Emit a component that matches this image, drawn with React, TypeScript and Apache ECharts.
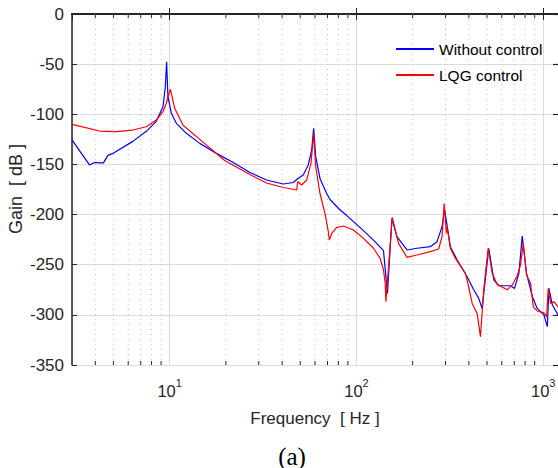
import React, { useEffect, useRef } from "react";
import * as echarts from "echarts";

const FONT = "Liberation Sans, Arial, Helvetica, sans-serif";

const blueFreq = [
  3.0, 3.72, 3.96, 4.21, 4.42, 4.67, 4.96, 6.35, 7.5, 8.48, 9.21, 9.48, 9.63, 9.79, 10.21, 10.86,
  12.29, 14.49, 17.81, 21.9, 26.9, 33.0, 40.6, 45.9, 48.2, 51.9, 55.2, 57.6, 59.0, 60.5, 63.8,
  69.3, 72.2, 81.8, 88.8, 109, 123.4, 139.6, 146.6, 154.9, 164.7, 186.5, 210.9, 248.6, 270.2,
  287.3, 296.6, 318.4, 345.7, 391.4, 424.6, 451.7, 471, 511, 543.7, 578, 668, 702, 741, 772,
  814, 874, 929, 1009, 1052, 1073, 1119, 1200,
];
const blueGain = [
  -125.5, -150.5, -148, -148.5, -148.5, -141, -139, -127, -117, -107, -92.5, -72.5, -47.6, -82.5,
  -99, -109, -119, -129, -139, -148, -158, -165.5, -169.5, -168, -164.5, -160.5, -150.5, -135.6,
  -114, -142, -164, -179, -185, -195.4, -201, -216, -225.5, -236, -278.6, -203.8, -222, -235.3,
  -233.6, -232, -227, -212, -195, -232, -245, -262, -275, -283.6, -293.6, -233.6, -265, -271,
  -271, -273.6, -258.6, -221.3, -258.6, -281.7, -293.6, -300, -311.8, -273.6, -290, -300,
];

const redFreq = [
  3.0, 4.21, 5.18, 6.35, 7.5, 8.48, 9.21, 9.6, 9.79, 10.09, 10.64, 11.79, 14.49, 19.7, 26.9, 33.0,
  40.6, 47.9, 48.5, 50.9, 54.2, 57.1, 59.0, 60.5, 63.8, 67.9, 70.7, 71.6, 73.8, 78.5, 85.2, 96.4,
  109, 123.4, 134, 139.6, 142.6, 143.8, 155.5, 168, 186.5, 210.9, 248.6, 275.5, 287.3, 295, 303,
  305.5, 318.4, 338.7, 383.3, 399, 416.4, 442.8, 461.3, 480.3, 507.3, 533.2, 567, 641.5, 682.5,
  726, 756, 782, 814, 855.6, 885, 929, 1009, 1043, 1064, 1096, 1142, 1200,
];
const redGain = [
  -110, -116.7, -117.3, -115.7, -112.4, -105.7, -97.4, -89, -82.5, -75, -94, -111, -125, -146,
  -160, -168.5, -173, -175.5, -167, -170.5, -165.5, -149, -119, -152, -179, -199, -217, -225.5,
  -218.8, -212.7, -211.4, -215.4, -223.7, -233.6, -243.7, -255, -268.6, -286.8, -202.8, -228.7,
  -242.7, -240.3, -237, -234.3, -222, -189, -218.6, -212, -233.6, -243.7, -258.6, -272, -288.6,
  -298.6, -321.7, -275, -233.6, -258.6, -269.6, -275, -270.4, -261, -250.3, -228.7, -260.3,
  -268.6, -292, -296, -298, -302, -273.6, -288.6, -287, -292,
];

const minorFreqs = [4, 5, 6, 7, 8, 9, 20, 30, 40, 50, 60, 70, 80, 90, 200, 300, 400, 500, 600, 700, 800, 900];
const seriesNames = ["Without control", "LQG control"];
const xMin = 3;
const xMax = 1200;
const yMin = -350;
const yMax = 0;
const yStep = 50;

const AXIS_COLOR = "#262626";

export default function App() {
  const ref = useRef<HTMLDivElement>(null);
  useEffect(() => {
    if (!ref.current) return;
    const chart = echarts.init(ref.current, null, { renderer: "svg" });
    const isPow10 = (v: number) => {
      const l = Math.log10(v);
      return Math.abs(l - Math.round(l)) < 1e-6;
    };
    const option: any = {
      animation: false,
      backgroundColor: "#ffffff",
      grid: { left: 72, top: 14, right: 0, bottom: 103, outerBoundsMode: "none", containLabel: false },
      legend: {
        orient: "vertical",
        left: 390,
        top: 36,
        itemWidth: 38,
        itemHeight: 14,
        itemGap: 10,
        itemStyle: { opacity: 0 },
        textStyle: { fontSize: 15.5, fontFamily: FONT, color: "#000" },
        data: seriesNames,
      },
      xAxis: [
        {
          type: "log",
          logBase: 10,
          min: xMin,
          max: xMax,
          position: "bottom",
          axisLine: { show: true, lineStyle: { color: AXIS_COLOR, width: 2 } },
          axisTick: { show: true, inside: true, length: 6, lineStyle: { color: AXIS_COLOR, width: 1 } },
          axisLabel: {
            show: true,
            showMinLabel: false,
            showMaxLabel: false,
            margin: 9,
            formatter: (v: number) => (isPow10(v) ? `{b|10}{s|${Math.round(Math.log10(v))}}` : ""),
            rich: {
              b: { fontSize: 16.5, fontFamily: FONT, color: AXIS_COLOR, padding: [8, 0, 0, 0] },
              s: { fontSize: 11, fontFamily: FONT, color: AXIS_COLOR, padding: [0, 0, 7, 0] },
            },
          },
          splitLine: { show: true, lineStyle: { color: "#dcdcdc", width: 1 } },
        },
        {
          type: "log",
          logBase: 10,
          min: xMin,
          max: xMax,
          position: "top",
          axisLine: { show: true, lineStyle: { color: AXIS_COLOR, width: 2 } },
          axisTick: { show: true, inside: true, length: 6, lineStyle: { color: AXIS_COLOR, width: 1 } },
          axisLabel: { show: false },
          splitLine: { show: false },
        },
      ],
      yAxis: [
        {
          type: "value",
          min: yMin,
          max: yMax,
          interval: yStep,
          position: "left",
          axisLine: { show: true, lineStyle: { color: AXIS_COLOR, width: 1.5 } },
          axisTick: { show: true, inside: true, length: 5, lineStyle: { color: AXIS_COLOR, width: 1 } },
          axisLabel: { show: true, margin: 8, fontSize: 17, fontFamily: FONT, color: AXIS_COLOR },
          splitLine: { show: true, lineStyle: { color: "#dcdcdc", width: 1 } },
        },
        {
          type: "value",
          min: yMin,
          max: yMax,
          interval: yStep,
          position: "right",
          axisLine: { show: false },
          axisTick: { show: true, inside: true, length: 5, lineStyle: { color: AXIS_COLOR, width: 1.2 } },
          axisLabel: { show: false },
          splitLine: { show: false },
        },
      ],
      graphic: [
        {
          type: "text",
          x: 16,
          y: 189,
          rotation: Math.PI / 2,
          style: {
            text: "Gain  [ dB ]",
            fontSize: 18,
            fontFamily: FONT,
            fill: AXIS_COLOR,
            align: "center",
            verticalAlign: "middle",
            textAlign: "center",
            textVerticalAlign: "middle",
          },
        },
        {
          type: "text",
          x: 315,
          y: 418,
          style: {
            text: "Frequency  [ Hz ]",
            fontSize: 17,
            fontFamily: FONT,
            fill: AXIS_COLOR,
            align: "center",
            verticalAlign: "middle",
            textAlign: "center",
            textVerticalAlign: "middle",
          },
        },
        {
          type: "text",
          x: 292,
          y: 456,
          style: {
            text: "(a)",
            fontSize: 25,
            fontFamily: "Liberation Serif, Times New Roman, serif",
            fill: "#000",
            align: "center",
            verticalAlign: "middle",
            textAlign: "center",
            textVerticalAlign: "middle",
          },
        },
      ],
      series: [
        {
          type: "custom",
          name: "minorGrid",
          xAxisIndex: 0,
          yAxisIndex: 0,
          silent: true,
          z: 1,
          data: minorFreqs.map((f) => [f, yMax]),
          renderItem: (_params: any, api: any) => {
            const f = api.value(0);
            const top = api.coord([f, yMax]);
            const bot = api.coord([f, yMin]);
            return {
              type: "group",
              children: [
                {
                  type: "line",
                  shape: { x1: top[0], y1: top[1], x2: bot[0], y2: bot[1] },
                  style: { stroke: "#c4c4c4", lineWidth: 1, lineDash: [1, 4] },
                },
                {
                  type: "line",
                  shape: { x1: bot[0], y1: bot[1], x2: bot[0], y2: bot[1] - 4 },
                  style: { stroke: AXIS_COLOR, lineWidth: 1 },
                },
                {
                  type: "line",
                  shape: { x1: top[0], y1: top[1], x2: top[0], y2: top[1] + 4 },
                  style: { stroke: AXIS_COLOR, lineWidth: 1 },
                },
              ],
            };
          },
        },
        {
          type: "line",
          name: seriesNames[0],
          xAxisIndex: 0,
          yAxisIndex: 0,
          symbol: "none",
          z: 3,
          lineStyle: { color: "#0000ff", width: 1.2 },
          itemStyle: { color: "#0000ff" },
          data: blueFreq.map((f, i) => [f, blueGain[i]]),
        },
        {
          type: "line",
          name: seriesNames[1],
          xAxisIndex: 0,
          yAxisIndex: 0,
          symbol: "none",
          z: 4,
          lineStyle: { color: "#ff0000", width: 1.2 },
          itemStyle: { color: "#ff0000" },
          data: redFreq.map((f, i) => [f, redGain[i]]),
        },
      ],
    };
    chart.setOption(option);
    return () => chart.dispose();
  }, []);
  return <div ref={ref} style={{ width: 558, height: 468, position: "absolute", left: 0, top: 0 }} />;
}
